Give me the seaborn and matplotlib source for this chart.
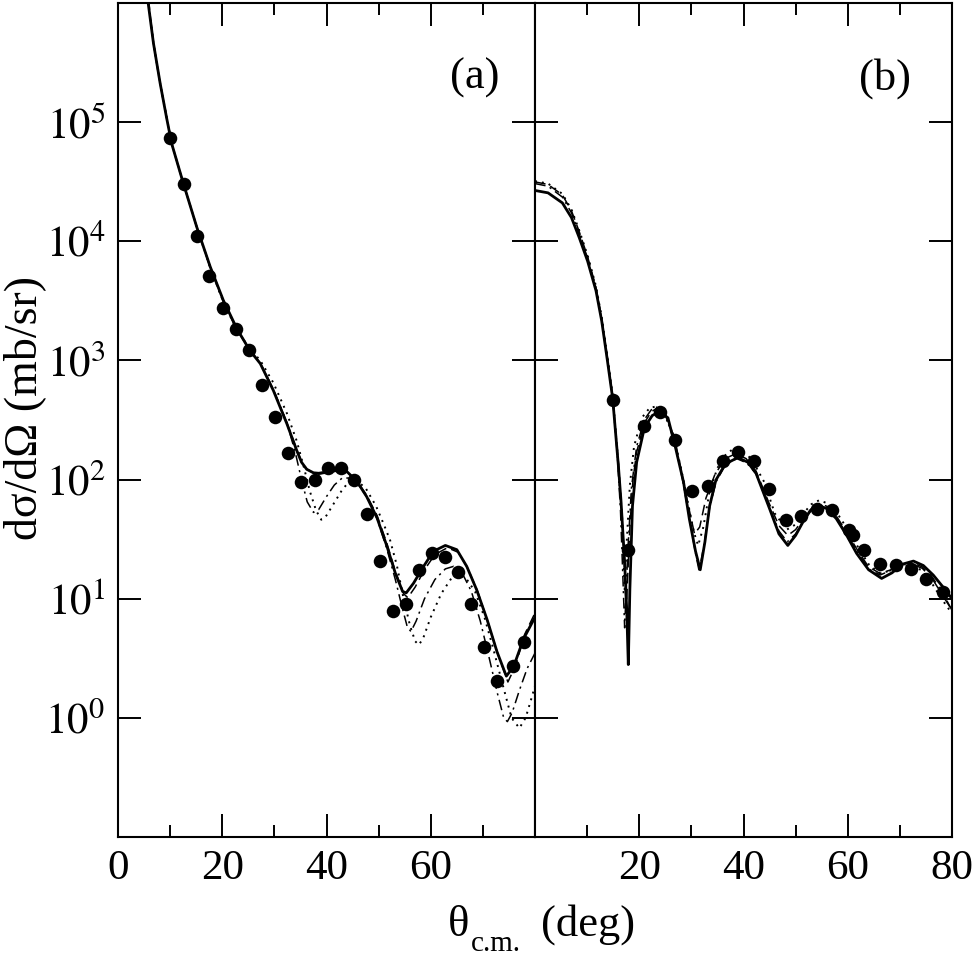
import matplotlib
matplotlib.use("Agg")
import numpy as np
import pandas as pd
import matplotlib.pyplot as plt
import seaborn as sns
from matplotlib.ticker import FixedLocator, FixedFormatter, NullLocator

# ---------------- data: panel (a) ----------------
a_exp_theta = [10.0, 12.7, 15.1, 17.5, 20.1, 22.6, 25.2, 27.6, 30.2, 32.7, 35.2, 37.7,
               40.2, 42.7, 45.2, 47.7, 50.3, 52.7, 55.2, 57.8, 60.2, 62.8, 65.2, 67.8,
               70.3, 72.7, 75.7, 77.8]
a_exp_sigma = [73800, 30100, 11100, 5140, 2740, 1830, 1220, 625, 337, 168, 96, 100,
               125, 124, 100, 51.5, 20.6, 7.9, 8.96, 17.4, 24, 22.5, 16.9, 9.0,
               3.9, 2.05, 2.7, 4.3]

a_solid_theta = [5.5, 5.8, 6.8, 8.1, 9.3, 10.3, 12.5, 15.1, 17.7, 20.2, 22.8, 25.3, 27.3,
                 29.8, 32.4, 34.3, 35.2, 36.2, 37.5, 38.5, 40.7, 42.5, 43.8, 45.8, 47.7,
                 49.7, 51.6, 53.2, 54.6, 55.3, 56.7, 58.6, 60.5, 62.8, 65.0, 66.9, 68.8,
                 70.8, 72.7, 74.5, 75.9, 77.8, 80.0]
a_solid_sigma = [1.4e6, 9.9e5, 4.6e5, 2.1e5, 1.1e5, 6.6e4, 3.1e4, 1.32e4, 6.1e3, 3.2e3, 1.85e3,
                 1.21e3, 940, 560, 294, 175, 140, 122, 114, 113, 117, 121, 118, 97, 72,
                 47.6, 27.5, 16.4, 11.5, 11.2, 13.5, 18.6, 25, 28, 25.8, 18.7, 11.9,
                 6.7, 3.6, 2.24, 2.7, 4.6, 7.0]

a_dash_theta = [5.5, 6.8, 8.1, 10.3, 12.5, 15.1, 17.7, 20.2, 22.8, 25.3, 27.3, 29.8, 32.4,
                34.3, 35.2, 36.2, 37.5, 38.5, 40.7, 42.5, 43.8, 45.8, 47.7, 49.7, 51.6,
                53.2, 54.8, 55.6, 57.0, 58.8, 60.8, 63.2, 65.3, 67.1, 69.0, 71.0, 73.0,
                74.8, 76.2, 78.0, 80.0]
a_dash_sigma = [1.4e6, 4.6e5, 2.1e5, 6.6e4, 3.1e4, 1.32e4, 6.1e3, 3.2e3, 1.85e3, 1.22e3, 950,
                570, 300, 178, 142, 123, 113, 111, 115, 119, 117, 98, 74, 50, 29,
                17, 11, 10.2, 12.5, 17.5, 23.5, 26.8, 24.5, 18, 11.5, 6.3, 3.3,
                2.0, 2.7, 5.0, 7.6]

a_dd_theta = [5.5, 6.8, 8.1, 10.3, 12.5, 15.1, 17.7, 20.2, 22.8, 25.3, 27.3, 29.8, 32.4,
              34.0, 35.2, 36.3, 37.5, 38.5, 40.0, 41.5, 43.0, 44.5, 46.0, 47.7, 49.7,
              51.6, 53.2, 54.5, 55.5, 56.2, 57.2, 58.8, 60.8, 62.8, 64.4, 66.0, 67.8,
              69.5, 71.2, 72.8, 74.0, 74.7, 75.6, 77.0, 78.5, 80.0]
a_dd_sigma = [1.4e6, 4.6e5, 2.1e5, 6.6e4, 3.1e4, 1.32e4, 6.0e3, 3.1e3, 1.8e3, 1.22e3, 950,
              570, 300, 170, 100, 65, 53, 56, 72, 90, 103, 103, 92, 72, 47,
              26, 14.5, 8.5, 5.8, 5.3, 6.5, 10, 14.5, 17.8, 18.7, 16.5, 11.5,
              6.5, 3.2, 1.6, 1.0, 0.93, 1.1, 1.7, 2.6, 3.5]

a_dot_theta = [5.5, 6.8, 8.1, 10.3, 12.5, 15.1, 17.7, 20.2, 22.8, 25.3, 27.3, 29.8, 32.4,
               34.3, 35.6, 36.8, 38.0, 39.0, 40.0, 41.5, 43.0, 44.5, 45.5, 47.5, 49.5,
               51.0, 52.2, 53.5, 54.8, 56.0, 57.0, 57.7, 58.5, 60.0, 62.0, 63.8, 65.2,
               66.7, 68.5, 70.3, 72.0, 73.8, 75.5, 77.0, 78.2, 79.2, 80.0]
a_dot_sigma = [1.4e6, 4.6e5, 2.1e5, 6.6e4, 3.1e4, 1.32e4, 6.0e3, 3.1e3, 1.8e3, 1.25e3, 1.0e3,
               650, 360, 210, 130, 80, 55, 46, 50, 64, 82, 98, 100, 85, 60,
               42, 31, 19, 10, 6.0, 4.4, 4.1, 4.6, 7.0, 11, 14.5, 16,
               15, 11.5, 7.0, 3.8, 1.9, 1.0, 0.82, 1.0, 1.4, 1.85]

# ---------------- data: panel (b) ----------------
b_exp_theta = [14.9, 17.9, 21.0, 24.0, 26.9, 30.1, 33.1, 36.0, 39.0, 42.1, 44.9, 48.1,
               51.1, 54.1, 57.0, 60.3, 61.0, 63.1, 66.2, 69.2, 72.2, 75.1, 78.3]
b_exp_sigma = [463, 25.4, 283, 371, 214, 80.6, 87.9, 143, 172, 142, 83, 46,
               49, 56.5, 55.4, 37.7, 34, 25.7, 19.6, 19.3, 17.7, 14.7, 11.3]

b_solid_theta = [0.0, 2.5, 5.25, 7.0, 8.5, 10.1, 11.7, 12.8, 13.9, 14.9, 16.0, 16.5, 17.2,
                 17.6, 17.9, 18.2, 18.7, 19.5, 21.0, 22.5, 23.9, 25.5, 27.0, 28.5, 29.6,
                 30.8, 31.7, 32.6, 33.5, 34.7, 36.5, 38.9, 40.8, 42.4, 45.0, 46.8, 48.5,
                 50.0, 51.4, 52.8, 54.2, 56.0, 57.8, 59.8, 61.7, 64.0, 66.5, 68.5, 70.5,
                 72.6, 74.5, 76.4, 78.3, 80.0]
b_solid_sigma = [26700, 25500, 21000, 15800, 10700, 6800, 3850, 2140, 990, 480, 130, 66, 20,
                 8, 2.8, 12, 60, 140, 273, 345, 371, 330, 182, 95, 47,
                 25, 17.5, 30, 60, 99, 135, 153, 140, 113, 57, 35, 28,
                 34, 44, 55, 61, 57, 47, 34, 24, 17.5, 14.8, 16.5, 19.5,
                 20.7, 19, 15.8, 12.5, 10]

b_dash_theta = [0.0, 2.5, 5.25, 7.0, 8.5, 10.1, 11.7, 12.8, 13.9, 14.9, 16.0, 16.8, 17.5,
                18.2, 18.8, 19.5, 21.0, 22.3, 23.5, 25.0, 26.8, 28.3, 29.5, 30.6, 31.6,
                32.8, 34.5, 36.5, 38.5, 40.5, 42.4, 45.0, 46.8, 48.5, 50.0, 51.5, 53.0,
                54.5, 56.3, 58.0, 60.0, 62.0, 64.0, 66.2, 68.3, 70.3, 72.3, 74.3, 76.3,
                78.3, 80.0]
b_dash_sigma = [31500, 30000, 24500, 18000, 12000, 7400, 4100, 2250, 1050, 500, 140, 45, 8,
                40, 100, 170, 300, 370, 400, 360, 220, 105, 58, 35, 40,
                70, 110, 150, 165, 150, 118, 62, 41, 34, 38, 47, 57,
                63, 59, 48, 35, 25, 18.5, 16.3, 17.5, 19.5, 20, 18.5, 15.0,
                11, 8.0]

b_dd_theta = [0.0, 2.5, 5.25, 7.0, 8.5, 10.1, 11.7, 12.8, 13.9, 14.9, 15.8, 16.4, 16.8,
              17.2, 17.8, 18.5, 19.5, 21.0, 22.3, 23.3, 25.0, 26.8, 28.3, 29.6, 30.8,
              31.5, 32.4, 33.5, 34.7, 36.5, 38.7, 40.6, 42.4, 45.0, 46.8, 48.4, 50.0,
              51.5, 53.0, 54.5, 56.2, 58.0, 60.0, 62.0, 64.0, 66.2, 68.3, 70.3, 72.3,
              74.3, 76.3, 78.3, 80.0]
b_dd_sigma = [30500, 29000, 23500, 17300, 11500, 7200, 4000, 2200, 1020, 480, 160, 55, 18,
              5.7, 25, 85, 190, 320, 385, 405, 350, 205, 100, 48, 24,
              17, 28, 58, 95, 132, 150, 138, 112, 58, 37, 30, 35,
              45, 55, 60, 57, 46, 34, 24, 17.8, 15.8, 17.3, 19.3, 19.5,
              18, 14.5, 10.5, 8.0]

b_dot_theta = [0.0, 2.5, 5.25, 7.0, 8.5, 10.1, 11.7, 12.8, 13.9, 14.9, 15.8, 16.5, 16.9,
               17.2, 17.6, 18.2, 19.0, 20.5, 22.0, 23.2, 24.6, 26.5, 28.0, 29.4, 30.5,
               31.3, 32.3, 33.5, 35.0, 36.5, 37.8, 39.5, 41.5, 44.0, 46.0, 48.3, 50.0,
               51.5, 53.0, 54.5, 56.2, 58.0, 60.0, 62.0, 64.0, 66.0, 68.0, 70.0, 72.0,
               74.0, 76.0, 78.0, 80.0]
b_dot_sigma = [32000, 30500, 25000, 18500, 12300, 7600, 4200, 2300, 1080, 510, 170, 60, 25,
               12, 30, 90, 190, 330, 400, 410, 370, 240, 125, 62, 36,
               28, 40, 80, 125, 160, 178, 175, 150, 95, 52, 38, 42,
               52, 62, 67, 63, 52, 38, 27, 19.5, 16.5, 17, 18.5, 19,
               17.5, 13.8, 10.0, 7.5]

y_tick_vals = [1, 10, 100, 1000, 10000, 100000]
y_tick_labels = [r"$10^{0}$", r"$10^{1}$", r"$10^{2}$", r"$10^{3}$", r"$10^{4}$", r"$10^{5}$"]
x_major = [0, 20, 40, 60, 80]
x_minor = [10, 30, 50, 70]
a_xlabels = ["0", "20", "40", "60", ""]
b_xlabels = ["", "20", "40", "60", "80"]

# ---------------- styling ----------------
sns.set_style("ticks")
plt.rcParams["font.family"] = ["Liberation Serif", "DejaVu Serif"]
plt.rcParams["mathtext.fontset"] = "stix"
for k in ["text.color", "axes.labelcolor", "xtick.color", "ytick.color", "axes.edgecolor"]:
    plt.rcParams[k] = "black"

W, H = 977, 961
fig = plt.figure(figsize=(W / 100, H / 100), dpi=100)
axa = fig.add_axes([118 / W, 1 - 837 / H, 417 / W, 834 / H])
axb = fig.add_axes([535 / W, 1 - 837 / H, 417 / W, 834 / H], sharey=axa)

line_styles = {
    "solid": dict(linestyle="-", linewidth=2.0),
    "dash": dict(linestyle=(0, (7, 3.5)), linewidth=1.1),
    "dd": dict(linestyle=(0, (7, 3, 1.4, 3)), linewidth=1.1),
    "dot": dict(linestyle=(0, (1, 2.6)), linewidth=1.4),
}

panels = {
    "a": (axa, {"solid": (a_solid_theta, a_solid_sigma), "dash": (a_dash_theta, a_dash_sigma),
                "dd": (a_dd_theta, a_dd_sigma), "dot": (a_dot_theta, a_dot_sigma)},
          (a_exp_theta, a_exp_sigma)),
    "b": (axb, {"solid": (b_solid_theta, b_solid_sigma), "dash": (b_dash_theta, b_dash_sigma),
                "dd": (b_dd_theta, b_dd_sigma), "dot": (b_dot_theta, b_dot_sigma)},
          (b_exp_theta, b_exp_sigma)),
}

for key, (ax, curves, exp) in panels.items():
    for name in ["dot", "dd", "dash", "solid"]:
        th, sg = curves[name]
        df = pd.DataFrame({"theta": th, "sigma": sg})
        sns.lineplot(data=df, x="theta", y="sigma", ax=ax, color="black",
                     estimator=None, sort=False, **line_styles[name])
    dfe = pd.DataFrame({"theta": exp[0], "sigma": exp[1]})
    sns.scatterplot(data=dfe, x="theta", y="sigma", ax=ax, color="black", s=95,
                    linewidth=0, zorder=5, legend=False)

axa.set_yscale("log")
axa.set_ylim(0.1, 1e6)

for ax, xl in ((axa, a_xlabels), (axb, b_xlabels)):
    ax.set_xlim(0, 80)
    ax.xaxis.set_major_locator(FixedLocator(x_major))
    ax.xaxis.set_major_formatter(FixedFormatter(xl))
    ax.xaxis.set_minor_locator(FixedLocator(x_minor))
    ax.set_xlabel("")
    ax.set_ylabel("")
    ax.tick_params(which="both", direction="in", top=True, bottom=True, left=True, right=True,
                   width=1.4, colors="black")
    ax.tick_params(which="major", length=16.5, labelsize=31, pad=9)
    ax.tick_params(which="minor", length=8.3)
    for sp in ax.spines.values():
        sp.set_linewidth(1.5)
        sp.set_color("black")

axa.yaxis.set_major_locator(FixedLocator(y_tick_vals))
axa.yaxis.set_major_formatter(FixedFormatter(y_tick_labels))
axa.yaxis.set_minor_locator(NullLocator())
axb.tick_params(labelleft=False)

axa.text(0.856, 0.91, "(a)", transform=axa.transAxes, ha="center", va="center", fontsize=32)
axb.text(0.839, 0.91, "(b)", transform=axb.transAxes, ha="center", va="center", fontsize=32)

# x label: theta with lowered subscript, then (deg)
fig.text(448 / W, 1 - 936 / H, "θ", ha="left", va="baseline", fontsize=32)
fig.text(471 / W, 1 - 951 / H, "c.m.", ha="left", va="baseline", fontsize=21)
fig.text(541 / W, 1 - 936 / H, "(deg)", ha="left", va="baseline", fontsize=32)

fig.text(25 / W, 1 - 408 / H, "dσ/dΩ (mb/sr)", rotation=90, ha="center", va="center", fontsize=33)

fig.savefig("out.png", dpi=100)
